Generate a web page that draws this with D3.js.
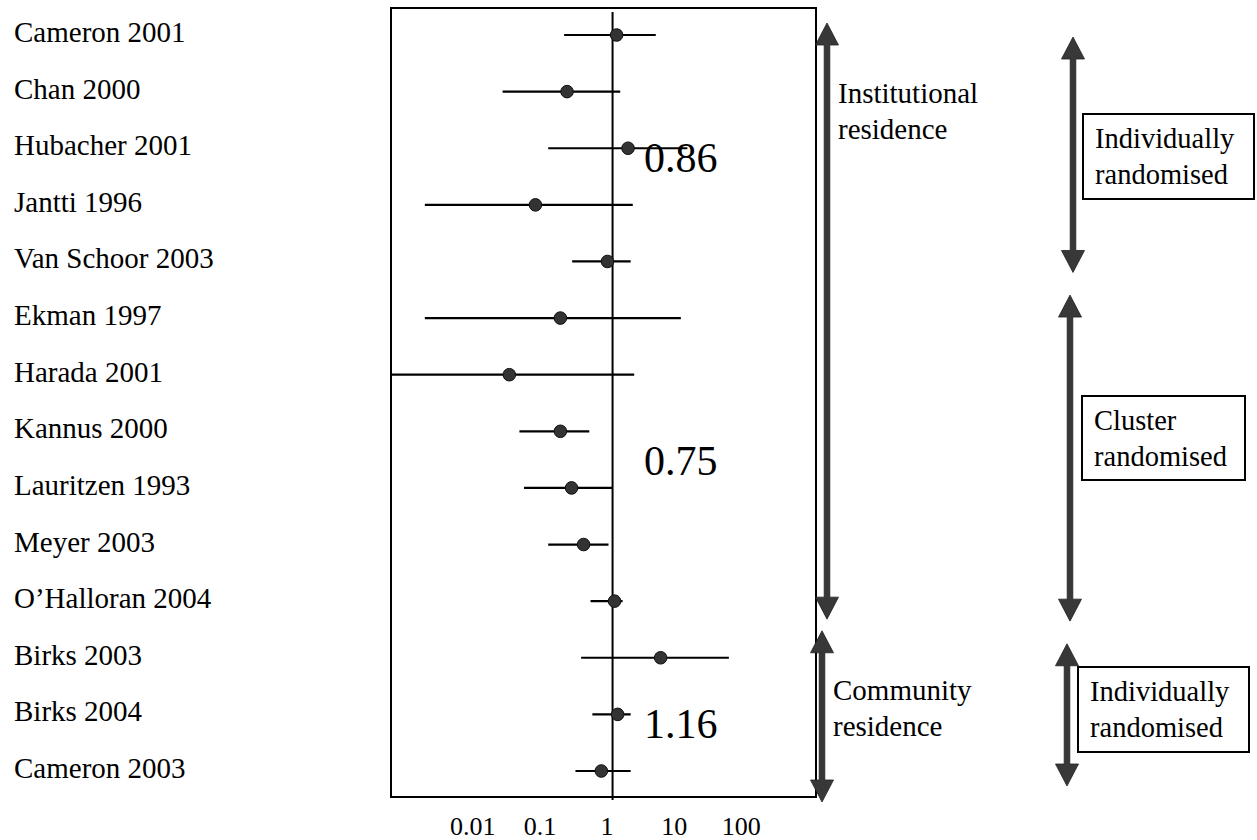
<!DOCTYPE html>
<html>
<head>
<meta charset="utf-8">
<script src="https://cdn.jsdelivr.net/npm/d3@7/dist/d3.min.js"></script>
<style>
  html, body { margin: 0; padding: 0; background: #fff; }
  svg { display: block; }
  text { font-family: "Liberation Serif", "Times New Roman", serif; fill: #000; }
</style>
</head>
<body>
<svg id="chart" width="1257" height="840"></svg>
<script>
// ---- data ----
const studies = ["Cameron 2001", "Chan 2000", "Hubacher 2001", "Jantti 1996", "Van Schoor 2003",
  "Ekman 1997", "Harada 2001", "Kannus 2000", "Lauritzen 1993", "Meyer 2003",
  "O\u2019Halloran 2004", "Birks 2003", "Birks 2004", "Cameron 2003"];
const estimates = [1.15, 0.21, 1.7, 0.071, 0.84, 0.167, 0.029, 0.167, 0.245, 0.37, 1.07, 5.2, 1.19, 0.68];
const lowerCI   = [0.19, 0.023, 0.11, 0.0016, 0.25, 0.0016, 0.0004, 0.041, 0.048, 0.11, 0.47, 0.34, 0.5, 0.28];
const upperCI   = [4.4, 1.3, 13, 2.0, 1.86, 10.4, 2.1, 0.45, 1.0, 0.87, 1.41, 54, 1.86, 1.86];
const tickValues = [0.01, 0.1, 1, 10, 100];
const tickLabels = ["0.01", "0.1", "1", "10", "100"];
const summaryLabels = ["0.86", "0.75", "1.16"];
const summaryRows   = [2, 7.35, 12];
const residenceGroups = [["Institutional", "residence"], ["Community", "residence"]];
const residenceRanges = [[0, 10], [11, 13]];
const designGroups = [["Individually", "randomised"], ["Cluster", "randomised"], ["Individually", "randomised"]];
const designRanges = [[0, 4], [5, 10], [11, 13]];

// ---- layout ----
const box = { x0: 391, x1: 816, y0: 8, y1: 797 };
const svg = d3.select("#chart");

const x = d3.scaleLog().domain([Math.pow(10, -3.30), Math.pow(10, 3.03)]).range([box.x0, box.x1]).clamp(true);
const y = d3.scalePoint().domain(studies).range([35, 771]);
const rowY = r => y.range()[0] + r * y.step();

// study labels
svg.append("g").selectAll("text").data(studies).join("text")
  .attr("x", 14)
  .attr("y", d => y(d) + 7)
  .attr("font-size", 29)
  .text(d => d);

// plot box
svg.append("rect")
  .attr("x", box.x0).attr("y", box.y0)
  .attr("width", box.x1 - box.x0).attr("height", box.y1 - box.y0)
  .attr("fill", "none").attr("stroke", "#000").attr("stroke-width", 2);

// line of no effect
svg.append("line")
  .attr("x1", x(1)).attr("x2", x(1))
  .attr("y1", box.y0 + 4).attr("y2", box.y1 + 3)
  .attr("stroke", "#000").attr("stroke-width", 2);

// CI lines
svg.append("g").selectAll("line").data(studies).join("line")
  .attr("x1", (d, i) => x(lowerCI[i]))
  .attr("x2", (d, i) => x(upperCI[i]))
  .attr("y1", d => y(d)).attr("y2", d => y(d))
  .attr("stroke", "#000").attr("stroke-width", 2.2);

// point estimates
svg.append("g").selectAll("circle").data(studies).join("circle")
  .attr("cx", (d, i) => x(estimates[i]))
  .attr("cy", d => y(d))
  .attr("r", 6.3)
  .attr("fill", "#333").attr("stroke", "#111").attr("stroke-width", 1);

// summary values
svg.append("g").selectAll("text").data(summaryLabels).join("text")
  .attr("x", x(2.95))
  .attr("y", (d, i) => rowY(summaryRows[i]) + 24)
  .attr("font-size", 42)
  .text(d => d);

// x axis
const axis = d3.axisBottom(x).tickValues(tickValues).tickFormat((d, i) => tickLabels[i]).tickSize(0).tickPadding(20);
const ax = svg.append("g").attr("transform", `translate(0,${box.y1})`).call(axis);
ax.select(".domain").remove();
ax.selectAll("text").attr("font-size", 26).attr("dx", -6)
  .style("font-family", '"Liberation Serif", "Times New Roman", serif').attr("fill", "#000");

// double-headed arrows
function arrow(g, cx, top, bottom) {
  const hw = 11.5, hl = 22, sw = 2.8;
  const p = d3.path();
  p.moveTo(cx, top);
  p.lineTo(cx + hw, top + hl);
  p.lineTo(cx + sw, top + hl);
  p.lineTo(cx + sw, bottom - hl);
  p.lineTo(cx + hw, bottom - hl);
  p.lineTo(cx, bottom);
  p.lineTo(cx - hw, bottom - hl);
  p.lineTo(cx - sw, bottom - hl);
  p.lineTo(cx - sw, top + hl);
  p.lineTo(cx - hw, top + hl);
  p.closePath();
  g.append("path").attr("d", p.toString()).attr("fill", "#383838").attr("stroke", "#222").attr("stroke-width", 0.8);
}

const residenceArrowX = [827, 822];
const residencePad = [[12, 18], [27, 31]];
const residenceTextY = [103, 700];
residenceGroups.forEach((lines, i) => {
  const g = svg.append("g");
  const [a, b] = residenceRanges[i];
  arrow(g, residenceArrowX[i], rowY(a) - residencePad[i][0], rowY(b) + residencePad[i][1]);
  g.selectAll("text").data(lines).join("text")
    .attr("x", residenceArrowX[i] + 11)
    .attr("y", (d, j) => residenceTextY[i] + j * 36)
    .attr("font-size", 29)
    .text(d => d);
});

const designArrowX = [1073, 1070, 1067];
const designPad = [[-2, 11], [23, 20], [14, 15]];
const designBoxes = [
  { x0: 1083, x1: 1254, y0: 114, y1: 199 },
  { x0: 1082, x1: 1245, y0: 396, y1: 480 },
  { x0: 1078, x1: 1249, y0: 667, y1: 752 }
];
designGroups.forEach((lines, i) => {
  const g = svg.append("g");
  const [a, b] = designRanges[i];
  arrow(g, designArrowX[i], rowY(a) - designPad[i][0], rowY(b) + designPad[i][1]);
  const bx = designBoxes[i];
  g.append("rect")
    .attr("x", bx.x0).attr("y", bx.y0)
    .attr("width", bx.x1 - bx.x0).attr("height", bx.y1 - bx.y0)
    .attr("fill", "#fff").attr("stroke", "#000").attr("stroke-width", 2);
  g.selectAll("text").data(lines).join("text")
    .attr("x", bx.x0 + 12)
    .attr("y", (d, j) => bx.y0 + 34 + j * 36)
    .attr("font-size", 28.5)
    .text(d => d);
});
</script>
</body>
</html>
